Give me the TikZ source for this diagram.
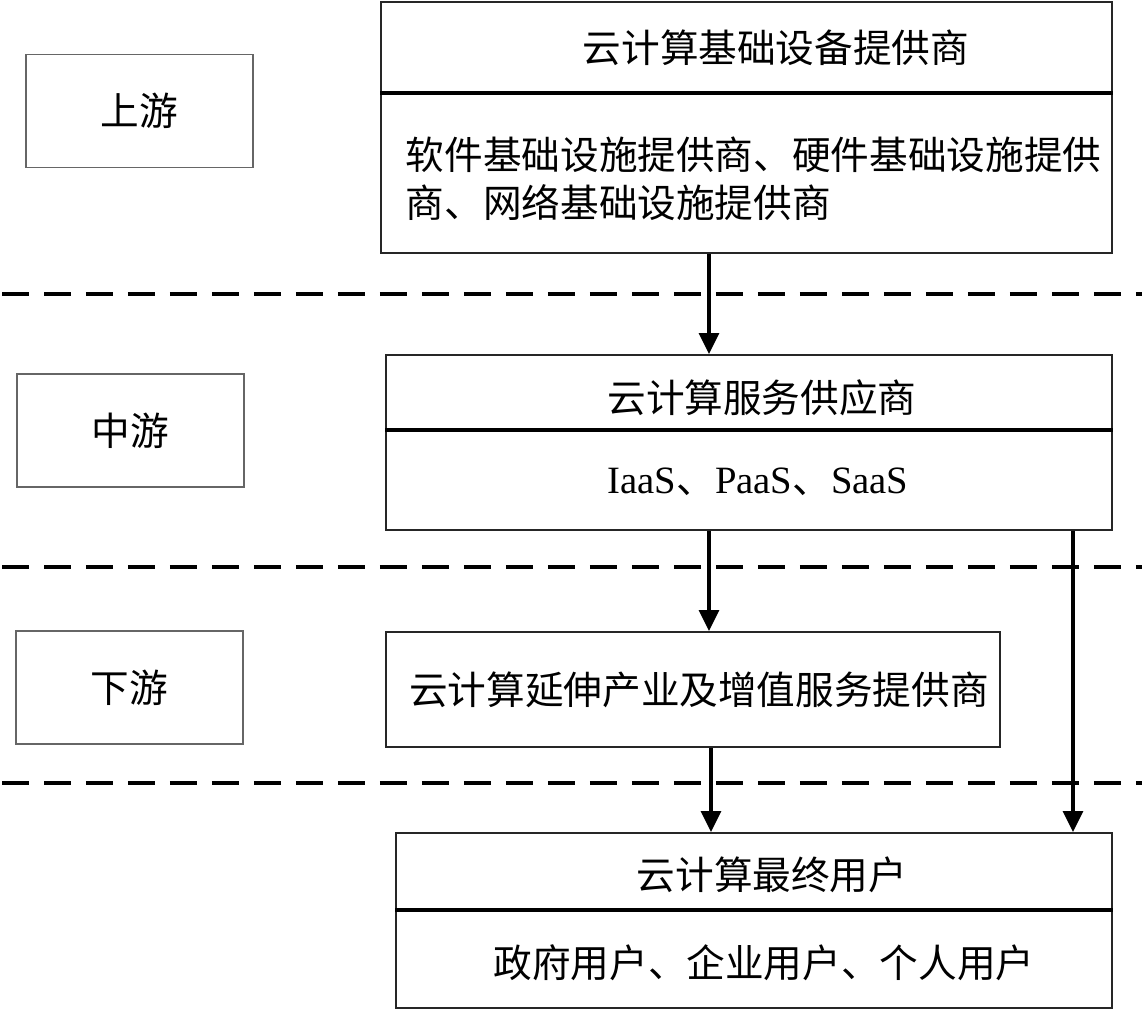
\documentclass[tikz,border=0pt]{standalone}
\usepackage{fontspec}
\setmainfont{Liberation Serif}
\newfontfamily\cjk{Noto Sans CJK SC}
\newfontfamily\latin{Liberation Serif}
\usetikzlibrary{arrows.meta}

\begin{document}
\begin{tikzpicture}[scale=1,
  every node/.style={font=\cjk\fontsize{11}{13.7}\selectfont, inner sep=0pt},
  stagebox/.style={draw=black!60, line width=0.4pt, minimum width=2.27cm, minimum height=1.13cm},
  chainbox/.style={draw=black!85, line width=0.5pt},
  divider/.style={line width=1.1pt},
  sepline/.style={line width=1pt, dash pattern=on 0.27cm off 0.15cm},
  flow/.style={line width=0.9pt, -{Triangle[width=0.2cm,length=0.21cm]}}]
\useasboundingbox (0,0) rectangle (11.42,-10.20);

% stages on the left
\node[stagebox] (upstream) at (1.395,-1.11) {上游};
\node[stagebox] (midstream) at (1.305,-4.305) {中游};
\node[stagebox] (downstream) at (1.295,-6.875) {下游};

% chain boxes
\node[chainbox, minimum width=7.31cm, minimum height=2.51cm] (infra) at (7.465,-1.275) {};
\node[chainbox, minimum width=7.26cm, minimum height=1.75cm] (service) at (7.49,-4.425) {};
\node[chainbox, minimum width=6.14cm, minimum height=1.15cm] (extend) at (6.93,-6.895) {};
\node[chainbox, minimum width=7.16cm, minimum height=1.75cm] (enduser) at (7.54,-9.205) {};

\draw[divider] ([yshift=-0.92cm]infra.north west) -- ([yshift=-0.92cm]infra.north east);
\draw[divider] ([yshift=-0.76cm]service.north west) -- ([yshift=-0.76cm]service.north east);
\draw[divider] ([yshift=-0.78cm]enduser.north west) -- ([yshift=-0.78cm]enduser.north east);

\node (infratitle) at (7.76,-0.48) {云计算基础设备提供商};
\node[anchor=west, align=left] (infrabody) at (4.05,-1.79) {软件基础设施提供商、硬件基础设施提供\\商、网络基础设施提供商};
\node (servicetitle) at (7.62,-3.98) {云计算服务供应商};
\node (servicebody) at (7.58,-4.82) {{\latin IaaS}、{\latin PaaS}、{\latin SaaS}};
\node (extendtext) at (6.99,-6.90) {云计算延伸产业及增值服务提供商};
\node (endusertitle) at (7.72,-8.75) {云计算最终用户};
\node (enduserbody) at (7.64,-9.63) {政府用户、企业用户、个人用户};

% stage borders
\foreach \y in {-2.94,-5.67,-7.83}
  \draw[sepline] (0.02,\y) -- (11.42,\y);

% flows
\coordinate (leftflow) at (7.09,0);
\coordinate (lowflow) at (7.11,0);
\coordinate (rightflow) at (10.73,0);
\draw[flow] (leftflow |- infra.south) -- (leftflow |- service.north);
\draw[flow] (leftflow |- service.south) -- (leftflow |- extend.north);
\draw[flow] (lowflow |- extend.south) -- (lowflow |- enduser.north);
\draw[flow] (rightflow |- service.south) -- (rightflow |- enduser.north);

\end{tikzpicture}
\end{document}
